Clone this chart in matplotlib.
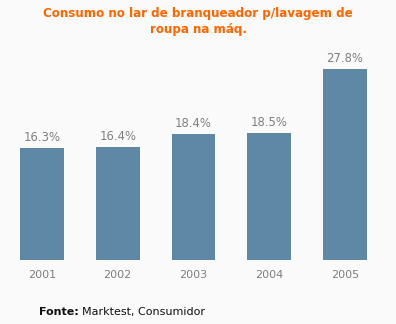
import matplotlib.pyplot as plt

anos = ['2001', '2002', '2003', '2004', '2005']
consumo = [16.3, 16.4, 18.4, 18.5, 27.8]
rotulos = ['16.3%', '16.4%', '18.4%', '18.5%', '27.8%']

fundo = '#fafafa'
cor_barra = '#5f87a6'
cinza = '#7f7f7f'

fig = plt.figure(figsize=(3.96, 3.24), dpi=100, facecolor=fundo)
ax = fig.add_axes([4.1/396, 64/324, 378.75/396, 220/324], facecolor=fundo)

x = range(len(anos))
barras = ax.bar(x, consumo, width=0.58, color=cor_barra)

for b, r in zip(barras, rotulos):
    ax.annotate(r, (b.get_x() + b.get_width()/2, b.get_height()),
                xytext=(0, 2.8), textcoords='offset points',
                ha='center', va='bottom', fontsize=8.4, color=cinza)

ax.set_xlim(-0.5, 4.5)
ax.set_ylim(0, 32)
ax.set_xticks(list(x))
ax.set_xticklabels(anos, fontsize=8, color=cinza)
ax.tick_params(axis='x', length=0, pad=7)
ax.set_yticks([])
for s in ax.spines.values():
    s.set_visible(False)

fig.text(0.5, 1 - 22/324, 'Consumo no lar de branqueador p/lavagem de\nroupa na máq.',
         ha='center', va='center', fontsize=8.6, fontweight='bold',
         color='#ff6600', linespacing=1.3)

# fonte: rótulo em negrito e texto normal
fig.text(39/396, 1 - 312/324, 'Fonte:', ha='left', va='center',
         fontsize=8, fontweight='bold', color='#111111')
fig.text(82/396, 1 - 312/324, 'Marktest, Consumidor', ha='left', va='center',
         fontsize=8, color='#111111')

fig.savefig('out.png', dpi=100, facecolor=fundo)
